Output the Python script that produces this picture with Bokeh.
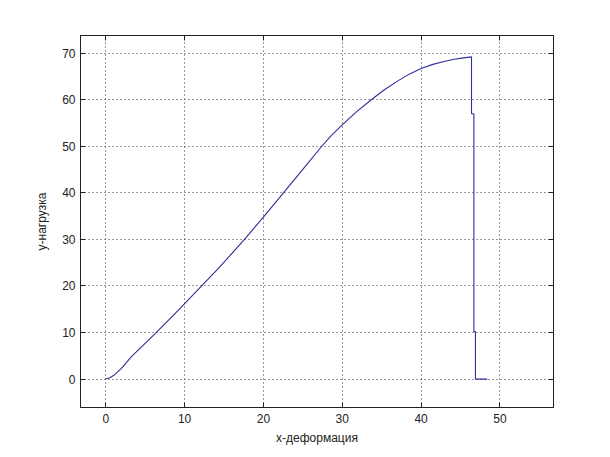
from bokeh.plotting import figure
from bokeh.models import LinearAxis, FixedTicker, Range1d
from bokeh.embed import file_html
from bokeh.resources import INLINE

# data
deform = [0, 0.5, 1.1, 2.0, 3.2, 6.4, 8.5, 9.5, 12.5, 14.2, 15.7, 17.6, 20.0, 22.6, 25.6,
          27.3, 28.6, 30.0, 31.8, 33.6, 35.3, 37.0, 38.5, 40.0, 41.5, 42.9, 44.2, 45.4, 46.4,
          46.4, 46.7, 46.7, 46.9, 46.9, 48.4]
load = [0, 0.3, 0.9, 2.3, 4.7, 10.0, 13.6, 15.3, 20.6, 23.6, 26.4, 30.0, 34.8, 40.1, 46.3,
        49.8, 52.3, 54.6, 57.4, 59.9, 62.1, 64.0, 65.5, 66.7, 67.6, 68.2, 68.7, 69.0, 69.2,
        57.0, 57.0, 10.2, 10.2, 0, 0]
x_ticks = [0, 10, 20, 30, 40, 50]
y_ticks = [0, 10, 20, 30, 40, 50, 60, 70]
x_label = "x-деформация"
y_label = "y-нагрузка"

FONT = "Liberation Sans"

p = figure(width=602, height=449, output_backend="svg", toolbar_location=None,
           x_range=Range1d(-3.2, 56.8), y_range=Range1d(-6.1, 73.8),
           min_border_left=80, min_border_right=49, min_border_top=35, min_border_bottom=42)
p.background_fill_color = "white"
p.border_fill_color = "white"
p.outline_line_color = "#222222"
p.outline_line_width = 1

p.line(deform, load, line_color="#2e2e9c", line_width=1.1)

for ax, ticks in ((p.xaxis[0], x_ticks), (p.yaxis[0], y_ticks)):
    ax.ticker = FixedTicker(ticks=ticks)
    ax.major_tick_in = 5
    ax.major_tick_out = 0
    ax.minor_tick_line_color = None
    ax.axis_line_color = "#222222"
    ax.major_tick_line_color = "#222222"
    ax.major_label_text_font = FONT
    ax.major_label_text_font_size = "12px"
    ax.major_label_text_color = "#222222"
    ax.axis_label_text_font = FONT
    ax.axis_label_text_font_size = "12px"
    ax.axis_label_text_font_style = "normal"
    ax.axis_label_text_color = "#222222"

p.xaxis[0].axis_label = x_label
p.yaxis[0].axis_label = y_label
p.xaxis[0].major_label_standoff = 6
p.xaxis[0].axis_label_standoff = 5
p.yaxis[0].major_label_standoff = 5
p.yaxis[0].axis_label_standoff = 10

# box ticks on top and right, as MATLAB draws them
top = LinearAxis(ticker=FixedTicker(ticks=x_ticks), major_tick_in=5, major_tick_out=0,
                 minor_tick_line_color=None, axis_line_color="#222222",
                 major_tick_line_color="#222222",
                 major_label_overrides={t: "" for t in x_ticks})
right = LinearAxis(ticker=FixedTicker(ticks=y_ticks), major_tick_in=5, major_tick_out=0,
                   minor_tick_line_color=None, axis_line_color="#222222",
                   major_tick_line_color="#222222",
                   major_label_overrides={t: "" for t in y_ticks})
p.add_layout(top, "above")
p.add_layout(right, "right")

p.xgrid.ticker = FixedTicker(ticks=x_ticks)
p.ygrid.ticker = FixedTicker(ticks=y_ticks)
for g in (p.xgrid[0], p.ygrid[0]):
    g.grid_line_color = "#333333"
    g.grid_line_dash = "1 3"
    g.grid_line_width = 1

open("out.html", "w").write(file_html(p, INLINE))
